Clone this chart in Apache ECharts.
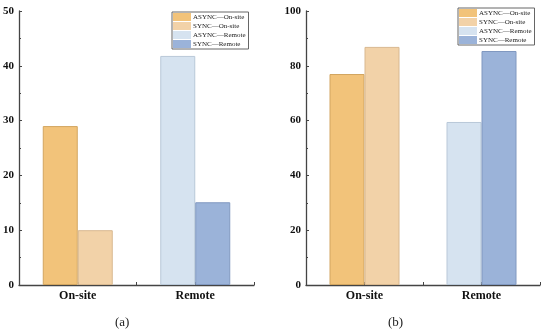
<!DOCTYPE html>
<html><head><meta charset="utf-8">
<script src="https://cdn.jsdelivr.net/npm/echarts@6/dist/echarts.min.js"></script>
<style>html,body{margin:0;padding:0;background:#fff}#c{width:550px;height:335px}</style>
</head><body><div id="c"></div>
<script>
const categories = ['On-site', 'Remote'];
const seriesNames = ['ASYNC\u2014On-site', 'SYNC\u2014On-site', 'ASYNC\u2014Remote', 'SYNC\u2014Remote'];
// panel (a)
const aAsyncOnsite = 29.0;
const aSyncOnsite = 10.0;
const aAsyncRemote = 41.8;
const aSyncRemote = 15.1;
// panel (b)
const bAsyncOnsite = 77.0;
const bSyncOnsite = 86.9;
const bAsyncRemote = 59.5;
const bSyncRemote = 85.4;
const aTicks = { min: 0, max: 50, interval: 10 };
const bTicks = { min: 0, max: 100, interval: 20 };
const panelLabels = ['(a)', '(b)'];

const colors = ['#F2C37A', '#F2D2A8', '#D6E3F0', '#9BB3D9'];
const borders = ['#D2A560', '#D8B890', '#B9C8D8', '#8098C0'];
const serif = 'Liberation Serif';

const chart = echarts.init(document.getElementById('c'), null, { renderer: 'canvas' });

function yAxis(idx, t) {
  return {
    type: 'value', gridIndex: idx, min: t.min, max: t.max, interval: t.interval,
    axisLine: { show: true, lineStyle: { color: '#444', width: 1.3 } },
    axisTick: { show: true, inside: true, length: 3, lineStyle: { color: '#444' } },
    minorTick: { show: true, splitNumber: 2, length: 2, lineStyle: { color: '#444' } },
    splitLine: { show: false },
    axisLabel: { color: '#111', fontFamily: serif, fontWeight: 'bold', fontSize: 11, margin: 5 }
  };
}
function xAxis(idx) {
  return {
    type: 'category', gridIndex: idx, data: categories,
    axisLine: { show: true, lineStyle: { color: '#444', width: 1.3 } },
    axisTick: { show: true, inside: true, length: 3, lineStyle: { color: '#444' } },
    axisLabel: { color: '#111', fontFamily: serif, fontWeight: 'bold', fontSize: 12, margin: 5 }
  };
}
function xAxisCenter(idx) {
  return {
    type: 'category', gridIndex: idx, data: categories, position: 'bottom',
    axisLine: { show: false },
    axisTick: { show: true, inside: true, length: 3, alignWithLabel: true, lineStyle: { color: '#444' } },
    axisLabel: { show: false }
  };
}
function bars(idx, vals) {
  const dataSets = [
    [vals[0], '-'], [vals[1], '-'], ['-', vals[2]], ['-', vals[3]]
  ];
  const stacks = ['async' + idx, 'sync' + idx, 'async' + idx, 'sync' + idx];
  return dataSets.map((d, i) => ({
    name: seriesNames[i], type: 'bar', xAxisIndex: idx * 2, yAxisIndex: idx,
    stack: stacks[i], data: d, barWidth: 35, barGap: '0%',
    itemStyle: { color: colors[i], borderColor: borders[i], borderWidth: 1 }
  }));
}
function legend(left, top) {
  return {
    orient: 'vertical', left: left, top: top, data: seriesNames,
    itemWidth: 18, itemHeight: 8, itemGap: 1, icon: 'rect',
    padding: [1, 3, 1, 1], borderColor: '#666', borderWidth: 1,
    selectedMode: false,
    itemStyle: { borderWidth: 0 },
    textStyle: { fontFamily: serif, fontSize: 7, lineHeight: 8, color: '#222', padding: [0, 0, 0, -3] }
  };
}

chart.setOption({
  animation: false,
  backgroundColor: '#fff',
  grid: [
    { left: 19, right: 296, top: 11, bottom: 50 },
    { left: 306, right: 10, top: 11, bottom: 50 }
  ],
  xAxis: [xAxis(0), xAxisCenter(0), xAxis(1), xAxisCenter(1)],
  yAxis: [yAxis(0, aTicks), yAxis(1, bTicks)],
  legend: [legend(172, 12), legend(458, 8)],
  series: [].concat(
    bars(0, [aAsyncOnsite, aSyncOnsite, aAsyncRemote, aSyncRemote]),
    bars(1, [bAsyncOnsite, bSyncOnsite, bAsyncRemote, bSyncRemote]).map(s => Object.assign(s, { xAxisIndex: 2 }))
  ),
  graphic: [
    { type: 'text', left: 115, top: 316, style: { text: panelLabels[0], font: '13px "Liberation Serif"', fill: '#222' } },
    { type: 'text', left: 388, top: 316, style: { text: panelLabels[1], font: '13px "Liberation Serif"', fill: '#222' } }
  ]
});
</script></body></html>
